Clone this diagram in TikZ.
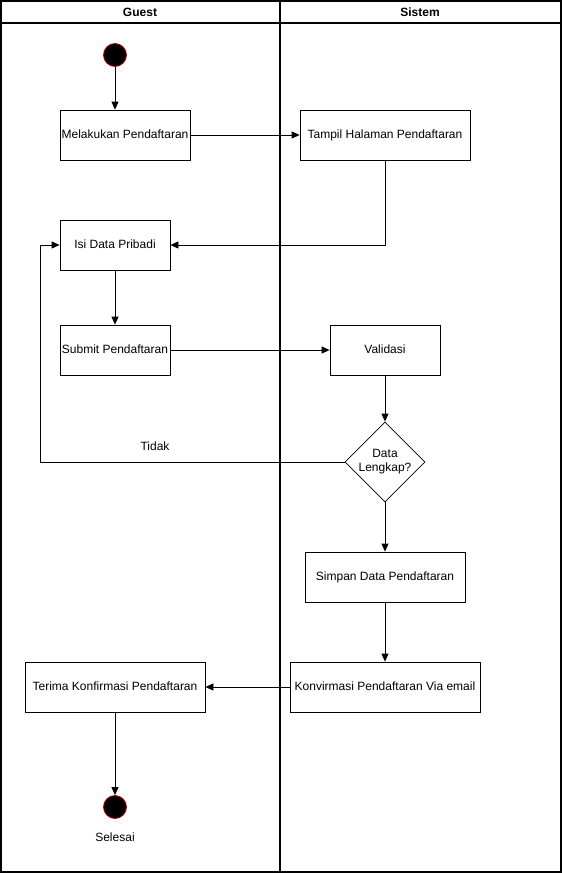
\documentclass[tikz,border=0pt]{standalone}
\usepackage{fontspec}
\setmainfont{Liberation Sans}
\usetikzlibrary{shapes.geometric,arrows.meta}
\begin{document}
\begin{tikzpicture}[x=1pt,y=-1pt,
  box/.style={draw,line width=0.8pt,rectangle,minimum height=50pt,inner sep=0pt,text height=8.5pt,text depth=2pt,font=\fontsize{12}{14}\selectfont},
  cond/.style={draw,line width=0.8pt,diamond,minimum width=80pt,minimum height=80pt,inner sep=0pt,aspect=1,align=center,font=\fontsize{12}{14}\selectfont},
  terminal/.style={circle,fill=black,draw={rgb,255:red,190;green,0;blue,0},line width=0.8pt,minimum size=23pt,inner sep=0pt},
  flow/.style={draw,line width=0.8pt,-{Triangle[length=8pt,width=7pt]}},
  lane/.style={draw,line width=1.3pt},
  lbl/.style={font=\fontsize{12}{14}\selectfont}]
\useasboundingbox (0,0) rectangle (562,873);
% swimlanes
\draw[lane] (1,1) rectangle (561,872);
\draw[lane] (280,1) -- (280,872);
\draw[lane] (1,23) -- (561,23);
\node[font=\bfseries\fontsize{12}{14}\selectfont] (hg) at (140,12) {Guest};
\node[font=\bfseries\fontsize{12}{14}\selectfont] (hs) at (420,12) {Sistem};
% nodes
\node[terminal] (start) at (115,55) {};
\node[box,minimum width=130pt] (daftar) at (125,135) {Melakukan Pendaftaran};
\node[box,minimum width=170pt] (tampil) at (385,135) {Tampil Halaman Pendaftaran};
\node[box,minimum width=110pt] (isi) at (115,245) {Isi Data Pribadi};
\node[box,minimum width=110pt] (submit) at (115,350) {Submit Pendaftaran};
\node[box,minimum width=110pt] (valid) at (385,350) {Validasi};
\node[cond] (lengkap) at (385,462) {Data\\Lengkap?};
\node[box,minimum width=160pt] (simpan) at (385,577) {Simpan Data Pendaftaran};
\node[box,minimum width=190pt] (konv) at (385,687) {Konvirmasi Pendaftaran Via email};
\node[box,minimum width=180pt] (terima) at (115,687) {Terima Konfirmasi Pendaftaran};
\node[terminal] (end) at (115,807) {};
\node[lbl] (selesai) at (115,837) {Selesai};
\coordinate (loop) at (40,462);
% connectors
\draw[flow] (start) -- (start |- daftar.north);
\draw[flow] (daftar) -- (tampil);
\draw[flow] (tampil.south) |- (isi.east);
\draw[flow] (isi) -- (submit);
\draw[flow] (submit) -- (valid);
\draw[flow] (valid) -- (lengkap);
\draw[flow] (lengkap.west) -- (loop) |- (isi.west);
\node[lbl] (tidak) at (155,446) {Tidak};
\draw[flow] (lengkap) -- (simpan);
\draw[flow] (simpan) -- (konv);
\draw[flow] (konv) -- (terima);
\draw[flow] (terima) -- (end);
\end{tikzpicture}
\end{document}
